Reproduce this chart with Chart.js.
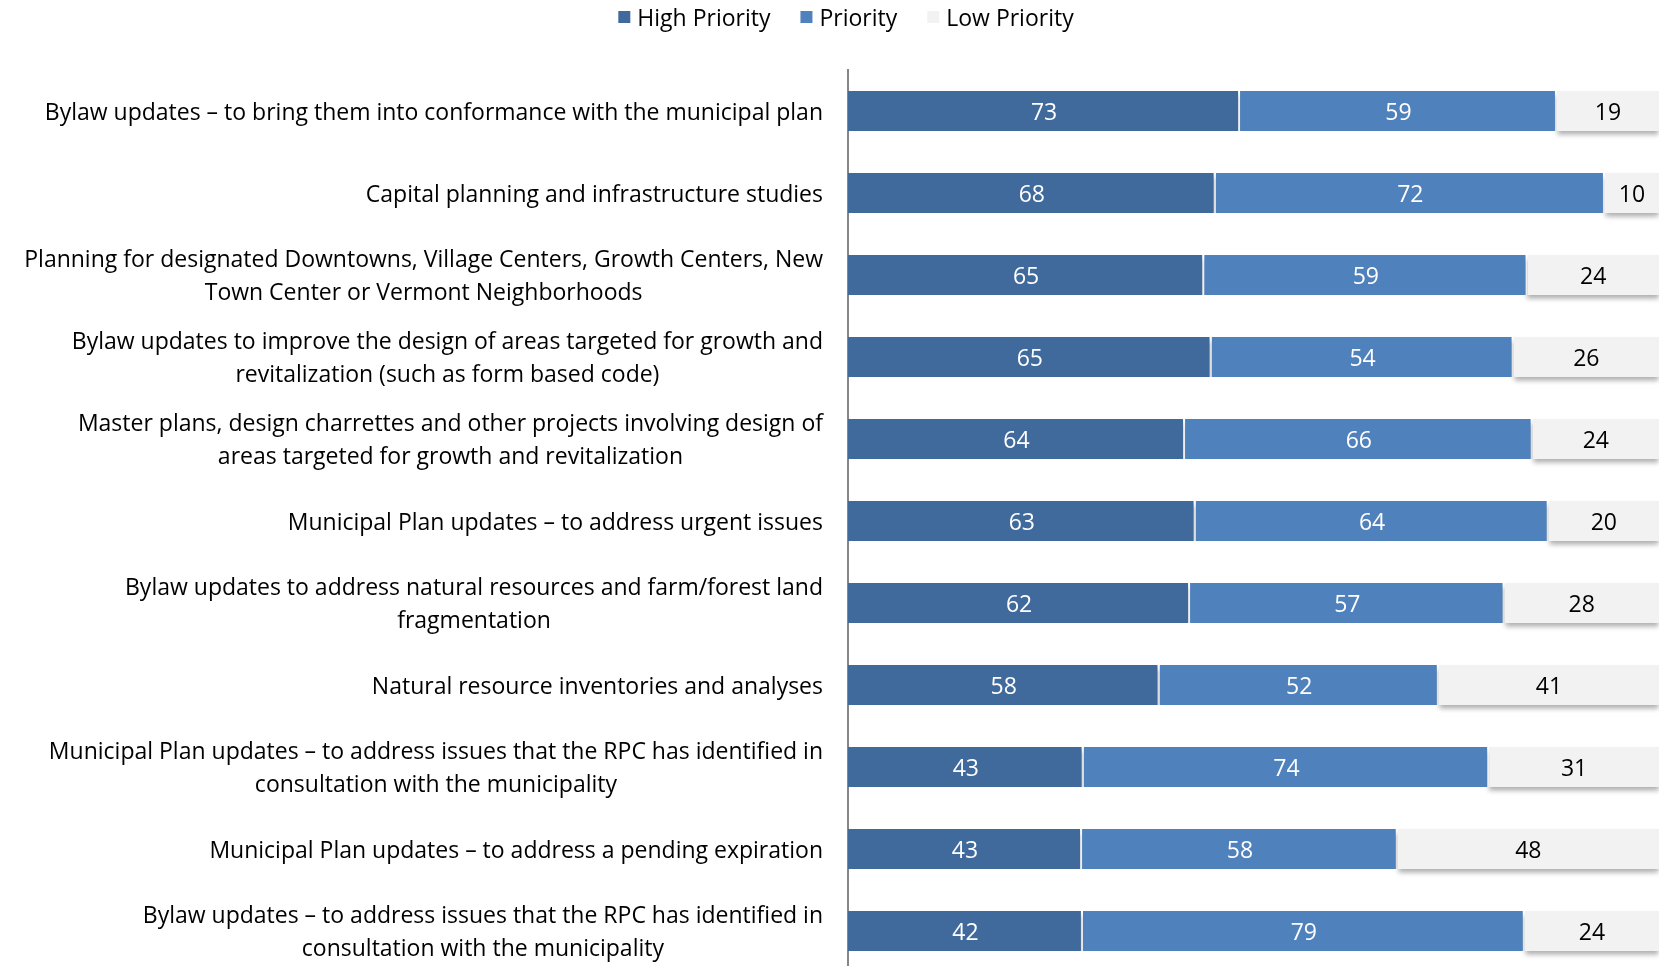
<!DOCTYPE html>
<html>
<head>
<meta charset="utf-8">
<script src="https://cdn.jsdelivr.net/npm/chart.js@4/dist/chart.umd.min.js"></script>
<style>
html,body{margin:0;padding:0;background:#fff;overflow:hidden;}
#wrap{position:relative;width:1661px;height:972px;}
</style>
</head>
<body>
<div id="wrap"><canvas id="c"></canvas></div>
<script>
const categories = [
  "Bylaw updates \u2013 to bring them into conformance with the municipal plan",
  "Capital planning and infrastructure studies",
  ["Planning for designated Downtowns, Village Centers, Growth Centers, New", "Town Center or Vermont Neighborhoods"],
  ["Bylaw updates to improve the design of areas targeted for growth and", "revitalization (such as form based code)"],
  ["Master plans, design charrettes and other projects involving design of", "areas targeted for growth and revitalization"],
  "Municipal Plan updates \u2013 to address urgent issues",
  ["Bylaw updates to address natural resources and farm/forest land", "fragmentation"],
  "Natural resource inventories and analyses",
  ["Municipal Plan updates \u2013 to address issues that the RPC has identified in", "consultation with the municipality"],
  "Municipal Plan updates \u2013 to address a pending expiration",
  ["Bylaw updates \u2013 to address issues that the RPC has identified in", "consultation with the municipality"]
];
const highPriority = [73, 68, 65, 65, 64, 63, 62, 58, 43, 43, 42];
const priority     = [59, 72, 59, 54, 66, 64, 57, 52, 74, 58, 79];
const lowPriority  = [19, 10, 24, 26, 24, 20, 28, 41, 31, 48, 24];
const seriesNames  = ["High Priority", "Priority", "Low Priority"];
const seriesColors = ["#40699C", "#4F81BD", "#F2F2F2"];
const labelColors  = ["#FFFFFF", "#FFFFFF", "#000000"];

const FONT = "'Open Sans', Lato, sans-serif";
const FS = 23;

const counts = [highPriority, priority, lowPriority];
const totals = categories.map((_, i) => highPriority[i] + priority[i] + lowPriority[i]);
const pct = counts.map(arr => arr.map((v, i) => v / totals[i] * 100));

const decor = {
  id: 'decor',
  beforeDatasetsDraw(chart) {
    const ctx = chart.ctx;
    ctx.save();
    ctx.shadowColor = 'rgba(0,0,0,0.32)';
    ctx.shadowBlur = 5;
    ctx.shadowOffsetX = 0;
    ctx.shadowOffsetY = 4;
  },
  afterDatasetsDraw(chart) {
    const ctx = chart.ctx;
    ctx.restore();
    ctx.save();
    ctx.font = FS + "px " + FONT;
    ctx.textAlign = 'center';
    ctx.textBaseline = 'middle';
    chart.data.datasets.forEach((ds, di) => {
      const meta = chart.getDatasetMeta(di);
      meta.data.forEach((bar, i) => {
        const left = Math.min(bar.x, bar.base), right = Math.max(bar.x, bar.base);
        ctx.fillStyle = labelColors[di];
        ctx.fillText(String(counts[di][i]), (left + right) / 2, bar.y + 2);
      });
    });
    // category labels
    const ys = chart.scales.y;
    ctx.fillStyle = '#000';
    const rightEdge = ys.right - 25;
    categories.forEach((lab, i) => {
      const lines = Array.isArray(lab) ? lab : [lab];
      const yc = ys.getPixelForValue(i);
      const widths = lines.map(l => ctx.measureText(l).width);
      const maxW = Math.max(...widths);
      const cx = rightEdge - maxW / 2;
      const lh = 32.8;
      lines.forEach((l, k) => {
        const y = yc + (k - (lines.length - 1) / 2) * lh;
        ctx.fillText(l, cx, y + 2);
      });
    });
    // legend
    const box = 12, gapBox = 7, gapItem = 30;
    const items = chart.data.datasets.map(d => ({ text: d.label, color: d.backgroundColor }));
    const itemW = items.map(it => box + gapBox + ctx.measureText(it.text).width);
    const totalW = itemW.reduce((a, b) => a + b, 0) + gapItem * (items.length - 1);
    let x = 846 - totalW / 2;
    const ly = 17;
    ctx.textAlign = 'left';
    items.forEach((it, k) => {
      ctx.fillStyle = it.color;
      ctx.fillRect(x, ly - box / 2, box, box);
      ctx.fillStyle = '#000';
      ctx.fillText(it.text, x + box + gapBox, ly + 2);
      x += itemW[k] + gapItem;
    });
    ctx.restore();
  }
};

new Chart(document.getElementById('c'), {
  type: 'bar',
  data: {
    labels: categories.map((c, i) => i),
    datasets: pct.map((arr, di) => ({
      label: seriesNames[di],
      data: arr,
      backgroundColor: seriesColors[di],
      borderColor: '#FFFFFF',
      borderWidth: di < 2 ? { right: 2, left: 0, top: 0, bottom: 0 } : 0,
      borderSkipped: false,
      barPercentage: 0.49,
      categoryPercentage: 1
    }))
  },
  options: {
    indexAxis: 'y',
    responsive: true,
    maintainAspectRatio: false,
    animation: false,
    layout: { padding: { top: 70, left: 0, right: 2, bottom: 0 } },
    plugins: { legend: { display: false }, tooltip: { enabled: false } },
    scales: {
      x: { stacked: true, min: 0, max: 100, display: false },
      y: {
        stacked: true,
        ticks: { display: false },
        grid: { display: false },
        border: { display: true, color: '#868686', width: 2 },
        afterFit(s) { s.width = 848; }
      }
    }
  },
  plugins: [decor]
});
</script>
</body>
</html>
